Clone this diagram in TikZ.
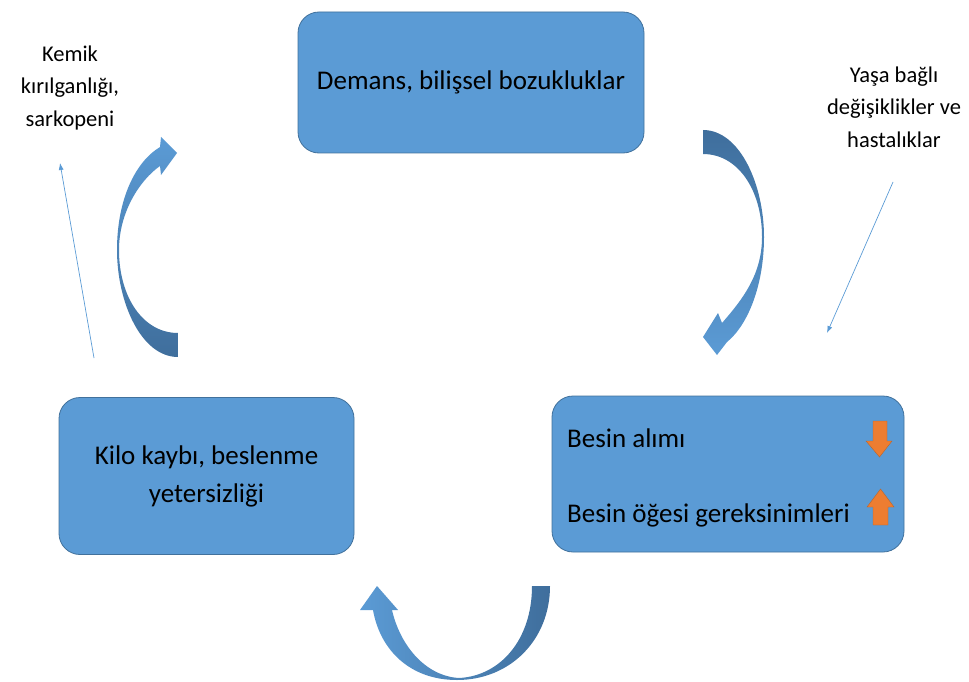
\documentclass[tikz,border=0pt]{standalone}
\usepackage{fontspec}
\setmainfont{Carlito}
\usetikzlibrary{positioning,arrows.meta}
\definecolor{boxblue}{HTML}{5B9BD5}
\definecolor{boxline}{HTML}{41719C}
\definecolor{arrdark}{HTML}{3F6E9C}
\definecolor{arrorange}{HTML}{ED7D31}
\definecolor{arrorangeline}{HTML}{B9652C}

\begin{document}
\begin{tikzpicture}[x=1pt,y=-1pt,
  stagebox/.style={draw=boxline,line width=0.8pt,fill=boxblue,rounded corners=21pt,inner sep=0pt,align=center,font=\fontsize{27}{38}\selectfont},
  boxtext/.style={inner sep=0pt,anchor=west,font=\fontsize{27}{32}\selectfont},
  sidetext/.style={inner sep=0pt,align=center,font=\fontsize{22.5}{32.5}\selectfont},
  thin_edge/.style={draw=boxblue,line width=0.7pt,-{Latex[length=7pt,width=5pt]}},
  cycle_arrow/.style={draw=none},
  level_arrow/.style={fill=arrorange,draw=arrorangeline,line width=0.4pt}]
\useasboundingbox (0,0) rectangle (969,682);
\node(demans)[stagebox,minimum width=346pt,minimum height=141pt] at (471,82.5) {Demans, bilişsel bozukluklar};
\node(besin)[stagebox,minimum width=352pt,minimum height=156pt] at (728,474) {};
\node(kilo)[stagebox,minimum width=295pt,minimum height=157pt] at (206.5,476) {Kilo kaybı, beslenme\\yetersizliği};
\node(alim)[boxtext] at (567,438) {Besin alımı};
\node(gerek)[boxtext] at (567,515) {Besin öğesi gereksinimleri};
\node(yasa)[sidetext] at (894,107) {Yaşa bağlı\\değişiklikler ve\\hastalıklar};
\node(kemik)[sidetext] at (70,88) {Kemik\\kırılganlığı,\\sarkopeni};
\coordinate(yasa_from) at (893,182);
\coordinate(yasa_to) at (827,333);
\coordinate(kemik_from) at (94,358);
\coordinate(kemik_to) at (60,163);
\draw [thin_edge] (yasa_from) to (yasa_to);
\draw [thin_edge] (kemik_from) to (kemik_to);
% demans -> besin
\shade [cycle_arrow,top color=arrdark,bottom color=boxblue] (703,130) .. controls (740,130) and (764,185) .. (764,237) .. controls (764,285) and (748,325) .. (727,342) -- (717,355) -- (703,337) -- (718,313) -- (722,323) .. controls (742,300) and (762,275) .. (762,237) .. controls (762,190) and (738,154) .. (703,154) -- cycle;
% besin -> kilo
\shade [cycle_arrow,left color=boxblue,right color=arrdark] (550,586) .. controls (550,640) and (510,680) .. (457,680) .. controls (410,680) and (380,650) .. (373,610) -- (360,610) -- (377,586) -- (398,610) -- (392,610) .. controls (400,645) and (425,676) .. (459,678) .. controls (500,676) and (532,640) .. (532,586) -- cycle;
% kilo -> demans
\shade [cycle_arrow,top color=boxblue,bottom color=arrdark] (178,357) .. controls (141,357) and (117,302) .. (117,250) .. controls (117,200) and (135,162) .. (160,147) -- (161,137) -- (177,153) -- (161,175) -- (160,166) .. controls (140,180) and (119,212) .. (119,250) .. controls (119,297) and (143,333) .. (178,333) -- cycle;
\draw [level_arrow] (873,421) -- (887,421) -- (887,441) -- (892,441) -- (879.5,457) -- (866,441) -- (873,441) -- cycle;
\draw [level_arrow] (880.5,489) -- (894,507) -- (888,507) -- (888,525) -- (873,525) -- (873,507) -- (867,507) -- cycle;
\end{tikzpicture}
\end{document}
